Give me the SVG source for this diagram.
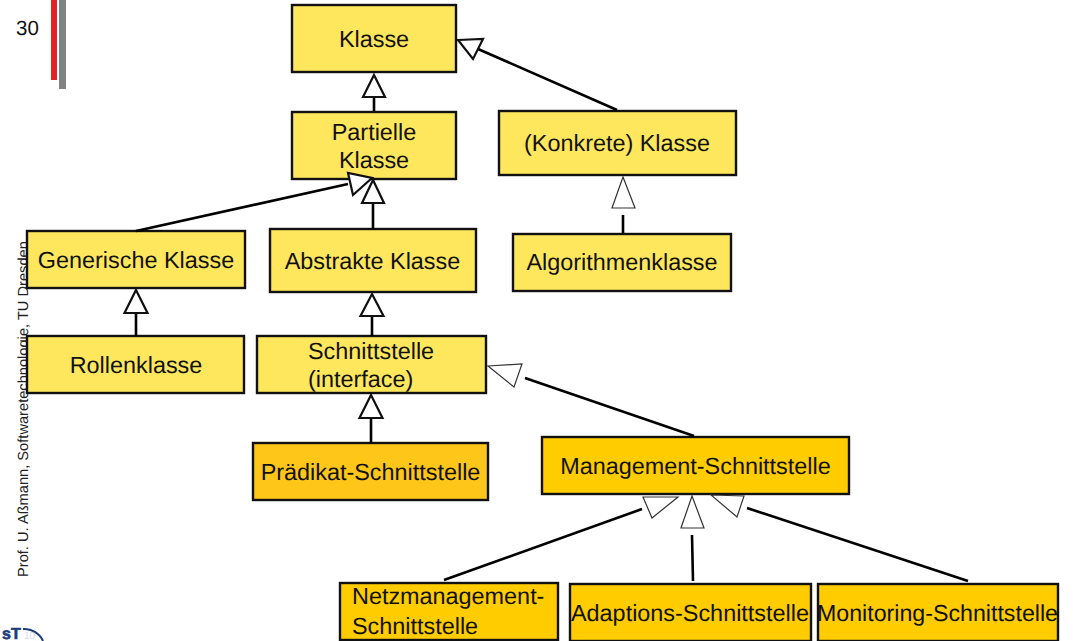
<svg xmlns="http://www.w3.org/2000/svg" width="1073" height="641" viewBox="0 0 1073 641">
<style>
text{font-family:"Liberation Sans",Arial,sans-serif;fill:#111;text-rendering:geometricPrecision}
.n{font-size:23.4px;text-anchor:middle}
.l{font-size:23.4px}
.b{stroke:#111;stroke-width:2.4}
.y{fill:#ffe75d}
.o{fill:#ffcc00}
.o2{fill:#ffc61a}
.c{fill:none;stroke:#000;stroke-width:2.6}
.h{fill:#fff;stroke:#111;stroke-width:2.2}
.t{fill:#fff;stroke:#333;stroke-width:1.2}
</style>
<rect width="1073" height="641" fill="#fff"/>
<g id="decor">
<rect x="51" y="0" width="6" height="80" fill="#e02327"/>
<rect x="59" y="0" width="7" height="89" fill="#828282"/>
<text x="16" y="35" style="font-size:20.500px">30</text>
<text transform="translate(28 577) rotate(-90)" style="font-size:14.650px;fill:#222">Prof. U. Aßmann, Softwaretechnologie, TU Dresden</text>
<text x="2" y="639" style="font-size:16px;font-weight:bold;fill:#1d3c78;stroke:#1d3c78;stroke-width:.6">sT</text>
<text x="24" y="639" style="font-size:10px;fill:#d5d9ee">10</text>
<path d="M23 629 A20 20 0 0 1 43 641" fill="none" stroke="#1d3c78" stroke-width="2"/>
</g>
<g id="klasse"><rect class="b y" x="292" y="5" width="164" height="67"/><text class="n" x="374" y="47">Klasse</text></g>
<g id="partielle"><rect class="b y" x="292" y="112" width="164" height="67"/><text class="n" x="374" y="140">Partielle</text><text class="n" x="374" y="168">Klasse</text></g>
<g id="konkrete"><rect class="b y" x="499" y="111" width="237" height="64"/><text class="n" x="617" y="151">(Konkrete) Klasse</text></g>
<g id="generische"><rect class="b y" x="27" y="231" width="218" height="57"/><text class="n" x="136" y="268">Generische Klasse</text></g>
<g id="abstrakte"><rect class="b y" x="270" y="229" width="206" height="63"/><text class="n" x="372.500" y="269">Abstrakte Klasse</text></g>
<g id="algorithmen"><rect class="b y" x="513" y="234" width="218" height="57"/><text class="n" x="622" y="270">Algorithmenklasse</text></g>
<g id="rollen"><rect class="b y" x="27" y="336" width="217" height="57"/><text class="n" x="136" y="373">Rollenklasse</text></g>
<g id="schnittstelle"><rect class="b y" x="257" y="336" width="229" height="57"/><text class="l" x="308" y="359">Schnittstelle</text><text class="l" x="308" y="387">(interface)</text></g>
<g id="praedikat"><rect class="b o2" x="253" y="443" width="235" height="57"/><text class="n" x="370.500" y="480">Prädikat-Schnittstelle</text></g>
<g id="management"><rect class="b o" x="542" y="437" width="307" height="57"/><text class="n" x="695.500" y="474">Management-Schnittstelle</text></g>
<g id="netz"><rect class="b o" x="340" y="583" width="218" height="57"/><text class="l" x="352" y="604">Netzmanagement-</text><text class="l" x="352" y="634">Schnittstelle</text></g>
<g id="adaptions"><rect class="b o" x="570" y="584" width="241" height="57"/><text class="l" x="571" y="621">Adaptions-Schnittstelle</text></g>
<g id="monitoring"><rect class="b o" x="818" y="584" width="240" height="57"/><text class="l" x="817" y="621" style="font-size:23.200px">Monitoring-Schnittstelle</text></g>
<g id="connectors">
<path class="c" d="M374 111V97M373 229V203M136 231L348 184M617 110L478 49M623 233V215M136 336V313M372 336V316M371 443V418M694 436L525 378M444 580L642 509M693 581L692 535M968 581L747 508"/>
<path class="h" d="M374 75L385 97H363ZM372 178L353 195L348 173ZM373 180L384 203H362ZM458 40L483 39L473 59ZM136 290L147.500 313H124.500ZM372 294L383.500 316H360.500ZM371 395L382.500 418H359.500Z"/>
<path class="t" d="M623 177L635 208H612ZM488 366L522 364L514 387ZM678 497L643 497L652 518ZM692 496L704 528H681ZM711 495L744 496L737 517Z"/>
</g>
</svg>
